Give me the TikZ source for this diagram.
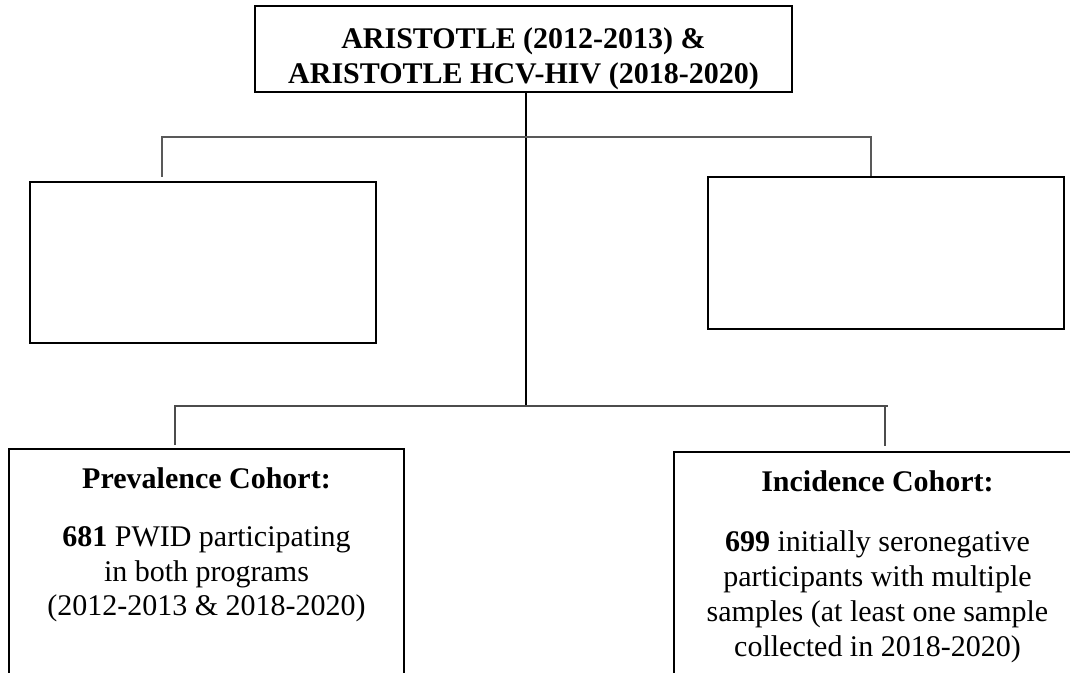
\documentclass[tikz,border=0pt]{standalone}
\usepackage{fontspec}
\setmainfont{Liberation Serif}
\begin{document}
\begin{tikzpicture}[x=0.75pt,y=-0.75pt,
  box/.style={draw=black, line width=1.3pt, rectangle, inner sep=0pt},
  toptext/.style={box, align=center, font=\fontsize{22.5pt}{26.25pt}\selectfont\bfseries},
  lowtext/.style={box, align=center, anchor=north, font=\fontsize{22.5pt}{25.9pt}\selectfont},
  stem/.style={draw=black, line width=1.4pt},
  bus/.style={draw=black!65, line width=1.5pt},
  bustwo/.style={draw=black!70, line width=1.1pt}]
\useasboundingbox (0,0) rectangle (1070,673);
\clip (0,0) rectangle (1070,673);
\fill[white] (0,0) rectangle (1070,673);

\node[toptext, minimum width=402.75pt, minimum height=64.5pt]
  (top) at (523.5,49) {\rule{0pt}{31pt}ARISTOTLE (2012-2013) \&\\ARISTOTLE HCV-HIV (2018-2020)\rule[-5pt]{0pt}{5pt}};

\node[box, minimum width=259.5pt, minimum height=120.75pt] (lmid) at (203,262.5) {};
\node[box, minimum width=267pt, minimum height=114pt] (rmid) at (886,253) {};

\node[lowtext, minimum width=296.25pt] (prev) at (206.5,448)
  {\rule{0pt}{30pt}\textbf{Prevalence Cohort:}\\[17.6pt]\textbf{681} PWID participating\\in both programs\\(2012-2013 \& 2018-2020)\rule[-200pt]{0pt}{200pt}};
\node[lowtext, minimum width=305.25pt, font=\fontsize{22.5pt}{26.1pt}\selectfont] (inc) at (877.5,451)
  {\rule{0pt}{30pt}\textbf{Incidence Cohort:}\\[18.8pt]\textbf{699} initially seronegative\\participants with multiple\\samples (at least one sample\\collected in 2018-2020)\rule[-200pt]{0pt}{200pt}};

\coordinate (j1) at (526,137);
\coordinate (j2) at (526,406);
\coordinate (a) at (162,177);
\coordinate (b) at (871,137);
\coordinate (c) at (175,445);
\coordinate (d) at (888,406);
\coordinate (e) at (885,406);
\coordinate (f) at (885,446);

\draw[stem] (top.south -| j1) -- (j2);
\draw[bus] (a) |- (j1) -- (b) -- (rmid.north -| b);
\draw[bustwo] (c) |- (j2) -- (d);
\draw[bustwo] (e) -- (f);
\end{tikzpicture}
\end{document}
